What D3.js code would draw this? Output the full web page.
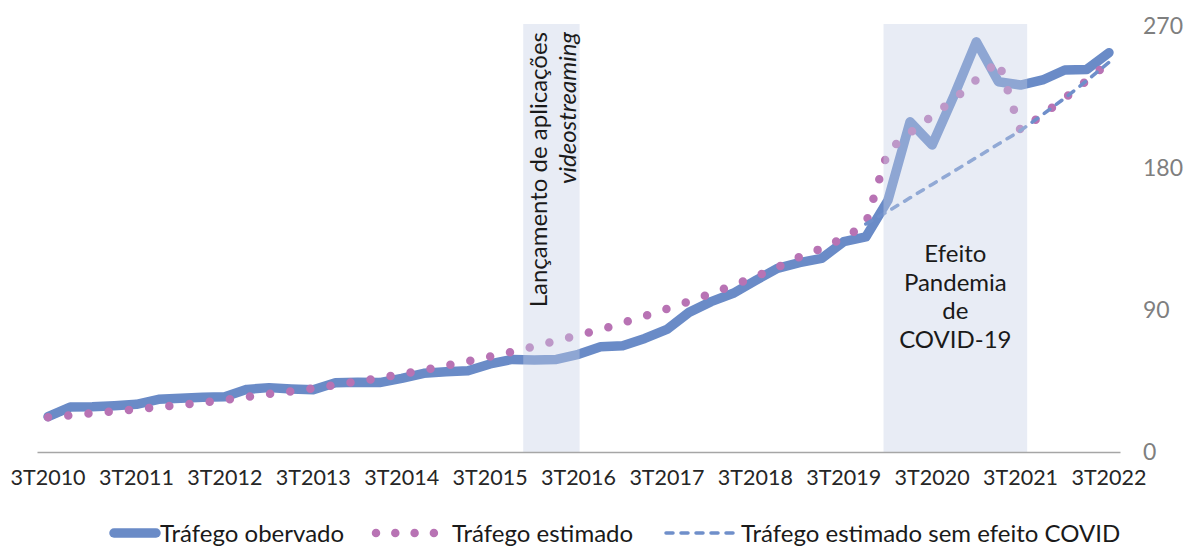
<!DOCTYPE html>
<html>
<head>
<meta charset="utf-8">
<script src="https://cdn.jsdelivr.net/npm/d3@7"></script>
<style>
  body { margin:0; background:#fff; }
  text { font-family: Lato, "Open Sans", sans-serif; }
</style>
</head>
<body>
<svg id="chart" width="1186" height="546"></svg>
<script>
// quarters 3T2010 .. 3T2022
var quarters = ["3T2010","4T2010",
  "1T2011","2T2011","3T2011","4T2011","1T2012","2T2012","3T2012","4T2012",
  "1T2013","2T2013","3T2013","4T2013","1T2014","2T2014","3T2014","4T2014",
  "1T2015","2T2015","3T2015","4T2015","1T2016","2T2016","3T2016","4T2016",
  "1T2017","2T2017","3T2017","4T2017","1T2018","2T2018","3T2018","4T2018",
  "1T2019","2T2019","3T2019","4T2019","1T2020","2T2020","3T2020","4T2020",
  "1T2021","2T2021","3T2021","4T2021","1T2022","2T2022","3T2022"];

var observado = [22.4,28.5,28.7,29.3,30.2,33.4,34,34.7,35,39.7,40.8,40,39.5,43.9,44.2,44,
  46.7,49.9,50.9,51.5,55.8,58.7,58.3,58.7,61.9,66.7,67.4,72,77.7,88.5,95.3,100.6,
  108.6,116.4,120,122.7,133.3,136.3,159.5,209.3,194.6,226.2,260,234.7,232.6,235.8,
  242.1,242.5,253.1];

var estimado = [22.1,23.3,24.7,25.8,27.1,28.5,29.9,31.3,33,34.9,36.8,38.4,40.3,42.5,44.7,46.9,
  49.4,51.9,54.7,57.5,60.5,63.6,67,70.6,74,77.6,81.9,86.2,90.8,95.4,100.5,105.7,
  111.1,117,123.6,129.1,135.6,144.5,191,202.3,213,223.7,235.9,247.8,203.7,213.8,
  224.3,235.4,247];

var semCovid = [null,null,null,null,null,null,null,null,null,null,null,null,null,null,null,null,
  null,null,null,null,null,null,null,null,null,null,null,null,null,null,null,null,
  null,null,null,null,null,144.5,152.5,161.1,169.6,178.1,186.6,195.2,203.7,213.8,
  224.3,235.4,247];

var yTicks = [0,90,180,270];
var xTickLabels = ["3T2010","3T2011","3T2012","3T2013","3T2014","3T2015","3T2016",
  "3T2017","3T2018","3T2019","3T2020","3T2021","3T2022"];

// shaded periods, in quarter index units
var periodos = [[21.5,24.05],[37.8,44.3]];

var svg = d3.select("#chart");
var x = d3.scaleBand().domain(quarters).range([37,1120]);
var xc = function(i){ return x(quarters[i]) + x.bandwidth()/2; };
var xi = d3.scaleLinear().domain([0,quarters.length-1]).range([xc(0), xc(quarters.length-1)]);
var y = d3.scaleLinear().domain([0,270]).range([452,26]);

var line = d3.line()
  .defined(function(d){ return d != null; })
  .x(function(d,i){ return xc(i); })
  .y(function(d){ return y(d); });

svg.append("path").datum(observado)
  .attr("d", line).attr("fill","none")
  .attr("stroke","#6a8bc7").attr("stroke-width",9.5)
  .attr("stroke-linejoin","round").attr("stroke-linecap","round");

svg.append("path").datum(estimado)
  .attr("d", line).attr("fill","none")
  .attr("stroke","#b873b4").attr("stroke-width",8.5)
  .attr("stroke-dasharray","0 20.3")
  .attr("stroke-linecap","round");

svg.append("path").datum(semCovid)
  .attr("d", line).attr("fill","none")
  .attr("stroke","#6f8fca").attr("stroke-width",3.5)
  .attr("stroke-dasharray","7 8")
  .attr("stroke-linecap","round");

// shading over the lines
svg.selectAll("rect.periodo").data(periodos).enter().append("rect")
  .attr("class","periodo")
  .attr("x", function(d){ return xi(d[0]); })
  .attr("width", function(d){ return xi(d[1]) - xi(d[0]); })
  .attr("y", y(270) - 2)
  .attr("height", y(0) - y(270) + 2)
  .attr("fill","rgb(198,208,230)").attr("opacity",0.4);

// x axis
var xAxis = d3.axisBottom(x).tickValues(xTickLabels).tickSize(0).tickPadding(18);
var gx = svg.append("g").attr("transform","translate(0,"+y(0)+")").call(xAxis);
gx.select(".domain").attr("stroke","#a6a6a6").attr("stroke-width",1.5);
gx.selectAll("text").attr("font-size",21.5).attr("fill","#262626")
  .style("font-family","Lato");

// y axis on the right
var yAxis = d3.axisRight(y).tickValues(yTicks).tickSize(0).tickPadding(8);
var gy = svg.append("g").attr("transform","translate(1135,0)").call(yAxis);
gy.select(".domain").remove();
gy.selectAll("text").attr("font-size",23).attr("fill","#7f7f7f")
  .style("font-family","Lato");

// annotations
var ann1 = svg.append("text")
  .attr("transform","translate("+((xi(periodos[0][0])+xi(periodos[0][1]))/2 - 4.5)+","+(y(270)+6)+") rotate(-90)")
  .attr("text-anchor","end").attr("font-size",24).attr("fill","#1a1a1a");
ann1.append("tspan").attr("x",0).attr("dy",0).text("Lançamento de aplicações");
ann1.append("tspan").attr("x",0).attr("dy","1.2em").attr("font-style","italic").text("videostreaming");

var covidLinhas = ["Efeito","Pandemia","de","COVID-19"];
svg.append("g").selectAll("text").data(covidLinhas).enter().append("text")
  .attr("x",(xi(periodos[1][0])+xi(periodos[1][1]))/2)
  .attr("y",function(d,i){ return 262 + i*28.7; })
  .attr("text-anchor","middle").attr("font-size",24).attr("fill","#1a1a1a")
  .text(function(d){ return d; });

// legend
var lg = svg.append("g").attr("transform","translate(0,533)");
lg.append("line").attr("x1",114).attr("x2",156)
  .attr("stroke","#6a8bc7").attr("stroke-width",9.5).attr("stroke-linecap","round");
lg.append("text").attr("x",160).attr("y",8.5).attr("font-size",24).attr("fill","#1a1a1a").text("Tráfego obervado");
lg.append("line").attr("x1",376).attr("x2",436)
  .attr("stroke","#b873b4").attr("stroke-width",8.5)
  .attr("stroke-dasharray","0 19.3").attr("stroke-linecap","round");
lg.append("text").attr("x",452).attr("y",8.5).attr("font-size",24).attr("fill","#1a1a1a").text("Tráfego estimado");
lg.append("line").attr("x1",666).attr("x2",734)
  .attr("stroke","#6f8fca").attr("stroke-width",3.5)
  .attr("stroke-dasharray","7 8").attr("stroke-linecap","round");
lg.append("text").attr("x",741).attr("y",8.5).attr("font-size",24).attr("fill","#1a1a1a").text("Tráfego estimado sem efeito COVID");
</script>
</body>
</html>
